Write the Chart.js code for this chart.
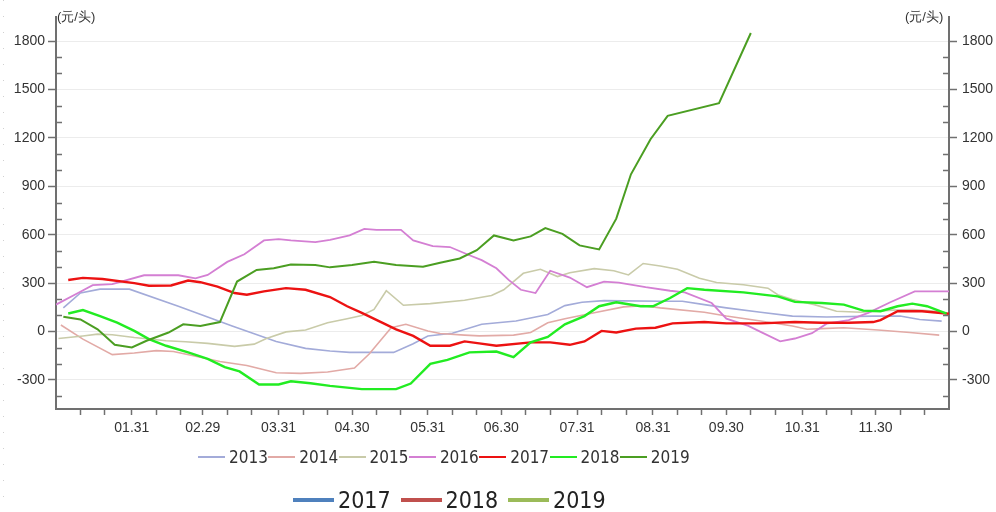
<!DOCTYPE html>
<html>
<head>
<meta charset="utf-8">
<script src="https://cdn.jsdelivr.net/npm/chart.js@4.4.1/dist/chart.umd.min.js"></script>
<style>
  body { margin: 0; background: #fff; }
  #wrap { position: relative; width: 996px; height: 512px; overflow: hidden;
          font-family: "Liberation Sans", Arial, sans-serif; color: #333; }
  #chart { position: absolute; left: 0; top: 0; }
  .unit { position: absolute; top: 8px; font-size: 13px; color: #333; white-space: nowrap; }
  .dots { position: absolute; left: 3px; top: 0; width: 1px; height: 500px;
          background: repeating-linear-gradient(to bottom, #d0d0d0 0 1px, transparent 1px 16px); }
  .lg { position: absolute; display: flex; align-items: center; white-space: nowrap; }
  .lg1 { font-family: "Liberation Sans Narrow", "DejaVu Sans Condensed", sans-serif; font-size: 17px; color: #333; }
  .lg2 { font-family: "Liberation Sans Narrow", "DejaVu Sans Condensed", sans-serif; font-size: 23px; color: #222; }
  .sw { display: inline-block; }
</style>
</head>
<body>
<div id="wrap">
  <canvas id="chart" width="996" height="512"></canvas>
  <div class="dots"></div>
  <span class="unit" style="left:57px">(元/头)</span>
  <span class="unit" style="left:905px">(元/头)</span>
  <div id="legend1"></div>
  <div id="legend2"></div>
</div>
<script>
// x = day of year, y = 元/头
const names = ["2013", "2014", "2015", "2016", "2017", "2018", "2019"];
const colors = ["#a3abd9", "#e2aaa6", "#c9cba9", "#d47fd3", "#ec1212", "#22ec22", "#4b9e22"];
const widths = [1.6, 1.6, 1.6, 1.8, 2.4, 2.4, 2];

const days2013 = [3, 10, 18, 30, 50, 72, 90, 102, 112, 120, 138, 146, 152, 162, 174, 188, 201, 208, 215, 224, 247, 256, 265, 274, 288, 301, 315, 334, 345, 353, 362];
const vals2013 = [147, 239, 263, 263, 157, 35, -61, -104, -120, -129, -129, -75, -27, -10, 45, 65, 106, 161, 182, 192, 188, 188, 167, 147, 120, 96, 90, 96, 96, 75, 65];

const days2014 = [2, 11, 23, 32, 41, 48, 59, 67, 78, 90, 100, 111, 122, 128, 137, 143, 152, 157, 167, 173, 187, 194, 201, 208, 221, 232, 240, 247, 265, 274, 288, 301, 307, 313, 322, 336, 349, 361];
const vals2014 = [41, -47, -143, -133, -118, -124, -159, -186, -210, -255, -259, -251, -226, -139, 24, 45, 4, -12, -22, -27, -22, -6, 55, 80, 120, 153, 161, 147, 120, 96, 65, 35, 14, 18, 24, 10, -6, -22];

const days2015 = [1, 11, 17, 23, 32, 45, 53, 62, 73, 81, 86, 94, 102, 111, 119, 125, 130, 135, 142, 153, 167, 178, 183, 191, 198, 205, 210, 220, 228, 234, 240, 247, 254, 263, 270, 281, 291, 295, 301, 310, 319, 329, 342, 350, 360, 364];
const vals2015 = [-43, -27, -16, -20, -37, -57, -63, -73, -92, -78, -43, -2, 10, 55, 80, 100, 137, 253, 163, 173, 194, 224, 259, 361, 386, 341, 365, 390, 377, 351, 422, 406, 386, 330, 304, 290, 269, 228, 198, 167, 126, 120, 133, 137, 126, 116];

const days2016 = [0, 9, 15, 23, 36, 50, 57, 62, 70, 77, 85, 91, 96, 106, 112, 120, 126, 131, 141, 146, 154, 161, 169, 174, 180, 185, 190, 196, 202, 210, 217, 224, 230, 241, 251, 257, 268, 274, 283, 288, 296, 302, 309, 315, 324, 332, 341, 351, 365];
const vals2016 = [167, 239, 288, 294, 349, 349, 330, 351, 432, 479, 565, 573, 565, 555, 569, 596, 637, 630, 630, 565, 530, 524, 473, 443, 392, 320, 259, 239, 377, 335, 275, 310, 304, 275, 253, 243, 177, 80, 35, -2, -61, -43, -10, 49, 71, 116, 182, 249, 249];

const days2017 = [5, 11, 19, 32, 38, 47, 54, 59, 66, 73, 78, 85, 94, 102, 112, 119, 125, 132, 139, 146, 153, 161, 167, 173, 180, 194, 202, 210, 216, 223, 229, 237, 245, 252, 265, 274, 288, 302, 313, 324, 334, 337, 344, 354, 365];
const vals2017 = [320, 333, 326, 300, 284, 286, 316, 306, 279, 239, 228, 249, 269, 259, 214, 157, 116, 65, 14, -27, -88, -88, -61, -73, -88, -67, -67, -82, -61, 4, -6, 18, 24, 51, 59, 51, 51, 59, 55, 55, 59, 71, 126, 126, 110];

const days2018 = [5, 11, 18, 25, 32, 38, 45, 54, 62, 69, 75, 83, 91, 96, 104, 112, 125, 139, 145, 153, 160, 169, 180, 187, 194, 201, 208, 216, 222, 229, 239, 244, 251, 258, 265, 281, 295, 302, 313, 322, 330, 337, 344, 350, 356, 364];
const vals2018 = [112, 133, 96, 55, 4, -47, -88, -129, -169, -220, -247, -328, -328, -308, -320, -337, -357, -357, -322, -200, -175, -129, -124, -159, -67, -33, 45, 96, 157, 182, 157, 157, 208, 269, 259, 243, 218, 184, 177, 167, 130, 126, 157, 173, 157, 112];

const days2019 = [3, 10, 17, 24, 31, 37, 46, 52, 59, 67, 74, 82, 89, 96, 106, 112, 121, 130, 139, 150, 157, 165, 172, 179, 187, 194, 200, 207, 214, 222, 229, 235, 243, 250, 271, 284];
const vals2019 = [92, 75, 14, -82, -98, -57, -6, 45, 35, 59, 310, 382, 392, 416, 412, 398, 412, 432, 412, 402, 426, 453, 504, 596, 565, 590, 641, 606, 534, 509, 700, 975, 1192, 1337, 1416, 1851];

const allDays = [days2013, days2014, days2015, days2016, days2017, days2018, days2019];
const allVals = [vals2013, vals2014, vals2015, vals2016, vals2017, vals2018, vals2019];

const xTickDays = [31, 60, 91, 121, 152, 182, 213, 244, 274, 305, 335];
const xTickLabels = ["01.31", "02.29", "03.31", "04.30", "05.31", "06.30", "07.31", "08.31", "09.30", "10.31", "11.30"];
const xMinorDays = [10, 20, 41, 51, 70, 80, 101, 111, 131, 141, 162, 172, 192, 202, 223, 233, 254, 264, 284, 294, 315, 325, 345, 355];
const yTicks = [-300, 0, 300, 600, 900, 1200, 1500, 1800];
const yMinorTicks = [-400, -200, -100, 100, 200, 400, 500, 700, 800, 1000, 1100, 1300, 1400, 1600, 1700];

const legend2Names = ["2017", "2018", "2019"];
const legend2Colors = ["#4f81bd", "#c0504d", "#9bbb59"];

const axisColor = "#707070";
const tickFont = { family: "'Liberation Sans', Arial, sans-serif", size: 14 };

const datasets = names.map((n, i) => ({
  label: n,
  data: allDays[i].map((d, k) => ({ x: d, y: allVals[i][k] })),
  borderColor: colors[i],
  backgroundColor: colors[i],
  borderWidth: widths[i],
  pointRadius: 0,
  tension: 0,
  order: names.length - i
}));

// inward minor ticks on both value axes
const minorTicks = {
  id: "minorTicks",
  afterDraw(chart) {
    const { ctx, chartArea } = chart;
    const y = chart.scales.y;
    ctx.save();
    ctx.strokeStyle = axisColor;
    ctx.lineWidth = 1.5;
    yMinorTicks.forEach(v => {
      const py = Math.round(y.getPixelForValue(v)) + 0.5;
      ctx.beginPath();
      ctx.moveTo(chartArea.left, py);
      ctx.lineTo(chartArea.left + 6, py);
      ctx.moveTo(chartArea.right - 6, py);
      ctx.lineTo(chartArea.right, py);
      ctx.stroke();
    });
    ctx.restore();
  }
};

const valueAxis = (pos, w) => ({
  position: pos,
  min: -480,
  max: 1950,
  afterBuildTicks: s => { s.ticks = yTicks.map(v => ({ value: v })); },
  afterFit: s => { s.width = w; },
  ticks: { font: tickFont, color: "#333", padding: pos === "left" ? 3 : 5, callback: v => String(v) },
  grid: {
    drawOnChartArea: pos === "left",
    color: "#ececec",
    lineWidth: 1,
    tickLength: 8,
    tickColor: axisColor,
    tickWidth: 1.5
  },
  border: { color: axisColor, width: 2 }
});

new Chart(document.getElementById("chart"), {
  type: "line",
  data: { datasets },
  options: {
    responsive: false,
    animation: false,
    layout: { padding: { top: 17 } },
    plugins: { legend: { display: false }, tooltip: { enabled: false } },
    scales: {
      x: {
        type: "linear",
        min: 0,
        max: 365,
        afterBuildTicks: s => {
          s.ticks = xTickDays.concat(xMinorDays).sort((a, b) => a - b).map(v => ({ value: v }));
        },
        afterFit: s => { s.height = 103; },
        ticks: {
          autoSkip: false,
          maxRotation: 0,
          font: tickFont,
          color: "#333",
          padding: 5,
          callback: v => {
            const k = xTickDays.indexOf(v);
            return k < 0 ? "" : xTickLabels[k];
          }
        },
        grid: { drawOnChartArea: false, tickLength: 6, tickColor: axisColor, tickWidth: 1.5 },
        border: { color: axisColor, width: 2 }
      },
      y: valueAxis("left", 56),
      y2: valueAxis("right", 47)
    }
  },
  plugins: [minorTicks]
});

// legends
const lg1 = document.getElementById("legend1");
names.forEach((n, i) => {
  const el = document.createElement("div");
  el.className = "lg lg1";
  el.style.left = (198 + i * 70.3) + "px";
  el.style.top = "447px";
  el.innerHTML = `<span class="sw" style="width:27px;height:2px;background:${colors[i]};margin-right:4px"></span>${n}`;
  lg1.appendChild(el);
});
const lg2 = document.getElementById("legend2");
legend2Names.forEach((n, i) => {
  const el = document.createElement("div");
  el.className = "lg lg2";
  el.style.left = (293 + i * 107.5) + "px";
  el.style.top = "487px";
  el.innerHTML = `<span class="sw" style="width:41px;height:4px;background:${legend2Colors[i]};margin-right:4px"></span>${n}`;
  lg2.appendChild(el);
});
</script>
</body>
</html>
